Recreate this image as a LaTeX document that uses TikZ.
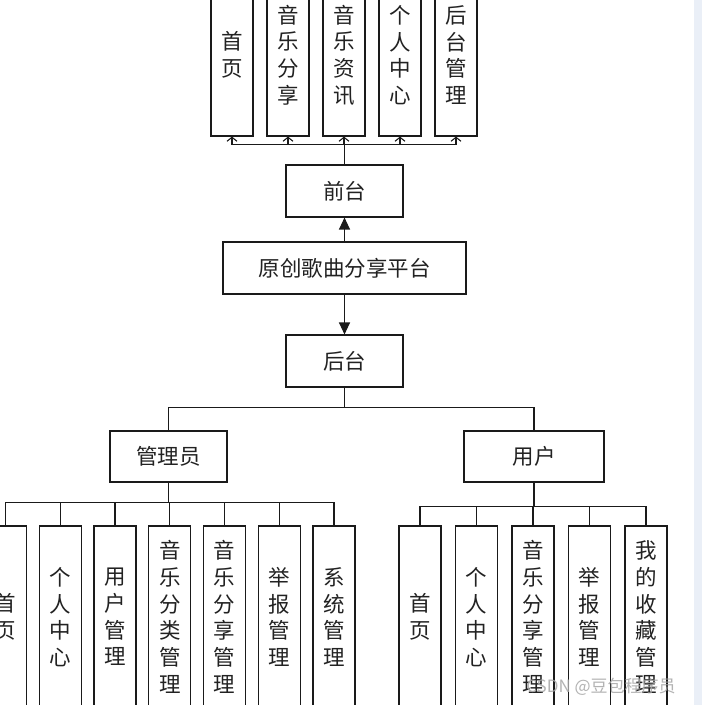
\documentclass[tikz,border=0pt]{standalone}
\usepackage{fontspec}
\setmainfont{Noto Sans CJK SC}
\usetikzlibrary{arrows.meta}
\definecolor{linec}{HTML}{1A1A1A}
\definecolor{textc}{HTML}{222222}
\definecolor{stripc}{RGB}{234,239,247}
\tikzset{
  box/.style={draw=linec, line width=1.1pt, rectangle, inner sep=0pt, fill=white,
    text=textc, font=\fontsize{21.5}{26.7}\selectfont, align=center},
  hbox/.style={box, minimum height=52pt},
  vbox/.style={box, minimum width=42pt},
  conn/.style={draw=linec, line width=1.2pt},
  barb/.style={conn, -{Straight Barb[length=4pt,width=10pt,line width=1.1pt]}},
  solidarrow/.style={conn, -{Triangle[length=12pt,width=11pt]}},
}
\begin{document}
\begin{tikzpicture}[x=1pt,y=-1pt]
\useasboundingbox (0,0) rectangle (702,705);
\fill[white] (0,0) rectangle (702,705);
\fill[stripc] (694,0) rectangle (702,705);
\begin{scope}
\clip (0,0) rectangle (702,705);
% top level boxes
\node[vbox, minimum height=162pt] (t1) at (232,55) {首\\页};
\node[vbox, minimum height=162pt] (t2) at (288,55) {音\\乐\\分\\享};
\node[vbox, minimum height=162pt] (t3) at (344,55) {音\\乐\\资\\讯};
\node[vbox, minimum height=162pt] (t4) at (400,55) {个\\人\\中\\心};
\node[vbox, minimum height=162pt] (t5) at (456,55) {后\\台\\管\\理};
% middle
\node[hbox, minimum width=117pt] (qt) at (344.5,191) {前台};
\node[hbox, minimum width=243pt] (yc) at (344.5,268) {原创歌曲分享平台};
\node[hbox, minimum width=117pt] (ht) at (344.5,361) {后台};
\node[hbox, minimum width=117pt, minimum height=51pt] (gl) at (168.5,456.5) {管理员};
\node[hbox, minimum width=140pt, minimum height=51pt] (yh) at (534,456.5) {用户};
% admin children
\node[vbox, minimum height=182pt] (a1) at (5.5,617) {首\\页};
\node[vbox, minimum height=182pt] (a2) at (60.25,617) {个\\人\\中\\心};
\node[vbox, minimum height=182pt] (a3) at (115,617) {用\\户\\管\\理};
\node[vbox, minimum height=182pt] (a4) at (169.75,617) {音\\乐\\分\\类\\管\\理};
\node[vbox, minimum height=182pt] (a5) at (224.5,617) {音\\乐\\分\\享\\管\\理};
\node[vbox, minimum height=182pt] (a6) at (279.25,617) {举\\报\\管\\理};
\node[vbox, minimum height=182pt] (a7) at (334,617) {系\\统\\管\\理};
% user children
\node[vbox, minimum height=182pt] (u1) at (420,617) {首\\页};
\node[vbox, minimum height=182pt] (u2) at (476.5,617) {个\\人\\中\\心};
\node[vbox, minimum height=182pt] (u3) at (533,617) {音\\乐\\分\\享\\管\\理};
\node[vbox, minimum height=182pt] (u4) at (589.5,617) {举\\报\\管\\理};
\node[vbox, minimum height=182pt] (u5) at (646,617) {我\\的\\收\\藏\\管\\理};
% connectors
\foreach \t in {t1,t2,t3,t4,t5}
  \draw[barb] (qt.north) -- ++(0,-20) -| (\t.south);
\draw[solidarrow] (yc.north) -- (qt.south);
\draw[solidarrow] (yc.south) -- (ht.north);
\draw[conn] (ht.south) -- ++(0,20) -| (gl.north);
\draw[conn] (ht.south) -- ++(0,20) -| (yh.north);
\foreach \a in {a1,a2,a3,a4,a5,a6,a7}
  \draw[conn] (gl.south) -- ++(0,20) -| (\a.north);
\foreach \u in {u1,u2,u3,u4,u5}
  \draw[conn] (yh.south) -- ++(0,24) -| (\u.north);
% watermark
\node[text=gray!70, opacity=0.85, font=\fontsize{17}{20}\selectfont, inner sep=0pt] (wm) at (601,686.5) {CSDN @豆包程序员};
\end{scope}
\end{tikzpicture}
\end{document}
